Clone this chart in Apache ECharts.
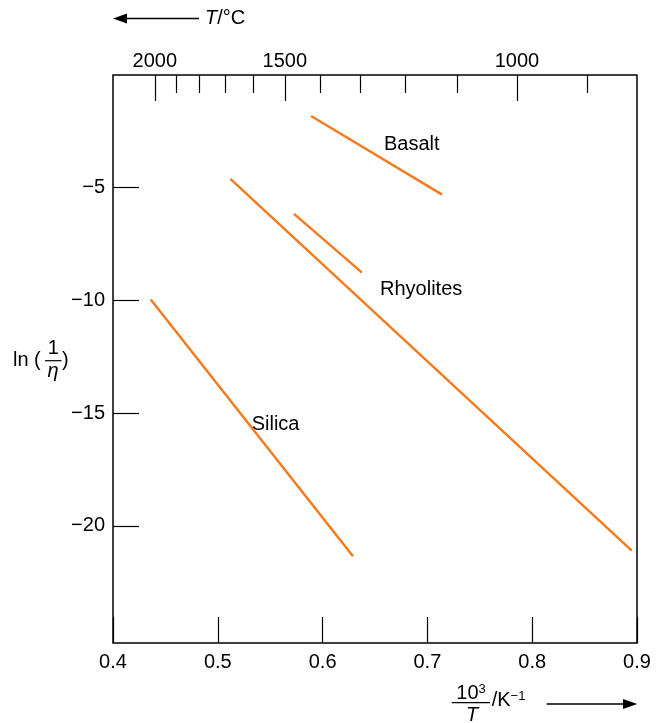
<!DOCTYPE html>
<html><head><meta charset="utf-8">
<script src="https://cdn.jsdelivr.net/npm/echarts@6/dist/echarts.min.js"></script>
<style>html,body{margin:0;padding:0;background:#fff}#c{width:663px;height:723px}</style>
</head><body><div id="c"></div>
<script>
// ---- data (x = 10^3/T in K^-1, y = ln(1/eta)) ----
const basaltX = [0.589, 0.714];
const basaltY = [-1.82, -5.31];
const rhyoliteAX = [0.512, 0.895];
const rhyoliteAY = [-4.61, -21.1];
const rhyoliteBX = [0.5727, 0.6376];
const rhyoliteBY = [-6.16, -8.77];
const silicaX = [0.436, 0.629];
const silicaY = [-9.96, -21.35];

const yTickLabels = [-5, -10, -15, -20];
const tempMajor = [2000, 1500, 1000];
const tempMinor = [1900, 1800, 1700, 1600, 1400, 1300, 1200, 1100, 900];

const labelNames = ['Basalt', 'Rhyolites', 'Silica'];
const labelX = [0.6586, 0.6548, 0.5323];
const labelY = [-3.08, -9.5, -15.52];

// ---- helpers ----
const FONT = "'Liberation Sans', Arial, Helvetica, sans-serif";
const TXT = '#000';
const ORANGE = '#f47b20';
const toInv = T => 1000 / (T + 273.15);
const pairs = (xs, ys) => xs.map((x, i) => [x, ys[i]]);

const chart = echarts.init(document.getElementById('c'), null, {renderer: 'canvas'});

function lineSeries(name, xs, ys) {
  return {
    name, type: 'line', data: pairs(xs, ys), symbol: 'none', silent: true,
    lineStyle: {color: ORANGE, width: 2.5}, animation: false
  };
}

const topAxisBase = {
  type: 'value', position: 'top', min: 0.4, max: 0.9,
  axisLine: {show: false, onZero: false}, splitLine: {show: false}
};

const option = {
  animation: false,
  grid: {left: 113, right: 26, top: 75, bottom: 80, show: true,
         borderColor: '#000', borderWidth: 1.5, backgroundColor: 'transparent'},
  xAxis: [
    {
      type: 'value', position: 'bottom', min: 0.4, max: 0.9, interval: 0.1,
      axisLine: {show: false, onZero: false}, splitLine: {show: false},
      axisTick: {show: true, inside: true, length: 26,
                 lineStyle: {color: '#000', width: 1.2}},
      axisLabel: {formatter: v => Number(v).toFixed(1),
                  fontSize: 20, fontFamily: FONT, color: TXT, margin: 9}
    },
    Object.assign({}, topAxisBase, {
      axisTick: {show: true, inside: true, length: 18, customValues: tempMinor.map(toInv),
                 lineStyle: {color: '#000', width: 1.2}},
      axisLabel: {show: false}
    }),
    Object.assign({}, topAxisBase, {
      axisTick: {show: true, inside: true, length: 26, customValues: tempMajor.map(toInv),
                 lineStyle: {color: '#000', width: 1.2}},
      axisLabel: {customValues: tempMajor.map(toInv),
                  formatter: v => String(Math.round(1000 / v - 273.15)),
                  fontSize: 20, fontFamily: FONT, color: TXT, margin: 4}
    })
  ],
  yAxis: {
    type: 'value', min: -25.2, max: 0,
    axisLine: {show: false, onZero: false}, splitLine: {show: false},
    axisTick: {show: true, inside: true, length: 26, customValues: yTickLabels,
               lineStyle: {color: '#000', width: 1.2}},
    axisLabel: {customValues: yTickLabels,
                formatter: v => (v < 0 ? '\u2212' + Math.abs(v) : String(v)),
                fontSize: 20, fontFamily: FONT, color: TXT, margin: 8}
  },
  series: [
    lineSeries('Basalt', basaltX, basaltY),
    lineSeries('Rhyolite A', rhyoliteAX, rhyoliteAY),
    lineSeries('Rhyolite B', rhyoliteBX, rhyoliteBY),
    lineSeries('Silica', silicaX, silicaY),
    {
      type: 'scatter', symbolSize: 0, silent: true, itemStyle: {opacity: 1},
      data: labelNames.map((n, i) => ({name: n, value: [labelX[i], labelY[i]]})),
      label: {show: true, position: [0, 0], align: 'left', verticalAlign: 'middle', opacity: 1,
              formatter: p => p.name, fontSize: 20, fontFamily: FONT, color: TXT}
    }
  ],
  graphic: [
    // top arrow + T/°C
    {type: 'line', shape: {x1: 122, y1: 18.5, x2: 199, y2: 18.5}, style: {stroke: '#000', lineWidth: 1.5}},
    {type: 'polygon', shape: {points: [[113, 18.5], [127, 13.5], [127, 23.5]]}, style: {fill: '#000'}},
    {type: 'text', x: 205, y: 18.5, style: {text: '{i|T}/°C', fontSize: 20, fontFamily: FONT, fill: TXT,
      verticalAlign: 'middle', align: 'left', rich: {i: {fontStyle: 'italic', fontSize: 20, fontFamily: FONT}}}},
    // y title ln(1/eta)
    {type: 'text', x: 13, y: 360, style: {text: 'ln (', fontSize: 20, fontFamily: FONT, fill: TXT, verticalAlign: 'middle', align: 'left'}},
    {type: 'text', x: 53.3, y: 348, style: {text: '1', fontSize: 20, fontFamily: FONT, fill: TXT, verticalAlign: 'middle', align: 'center'}},
    {type: 'line', shape: {x1: 45, y1: 360.7, x2: 61.5, y2: 360.7}, style: {stroke: '#000', lineWidth: 1.2}},
    {type: 'text', x: 53, y: 371, style: {text: 'η', fontSize: 20, fontStyle: 'italic', fontFamily: FONT, fill: TXT, verticalAlign: 'middle', align: 'center'}},
    {type: 'text', x: 62, y: 360, style: {text: ')', fontSize: 20, fontFamily: FONT, fill: TXT, verticalAlign: 'middle', align: 'left'}},
    // x title 10^3/T /K^-1 + arrow
    {type: 'text', x: 471, y: 693, style: {text: '10{s|3}', fontSize: 20, fontFamily: FONT, fill: TXT, verticalAlign: 'middle', align: 'center',
      rich: {s: {fontSize: 13, fontFamily: FONT, verticalAlign: 'bottom', padding: [0, 0, 8, 0]}}}},
    {type: 'line', shape: {x1: 451.7, y1: 702.7, x2: 490, y2: 702.7}, style: {stroke: '#000', lineWidth: 1.2}},
    {type: 'text', x: 472, y: 715, style: {text: 'T', fontSize: 20, fontStyle: 'italic', fontFamily: FONT, fill: TXT, verticalAlign: 'middle', align: 'center'}},
    {type: 'text', x: 491.7, y: 700, style: {text: '/K{s|\u22121}', fontSize: 20, fontFamily: FONT, fill: TXT, verticalAlign: 'middle', align: 'left',
      rich: {s: {fontSize: 13, fontFamily: FONT, verticalAlign: 'bottom', padding: [0, 0, 8, 0]}}}},
    {type: 'line', shape: {x1: 546.7, y1: 704, x2: 626, y2: 704}, style: {stroke: '#000', lineWidth: 1.5}},
    {type: 'polygon', shape: {points: [[637.3, 704], [623, 699], [623, 709]]}, style: {fill: '#000'}}
  ]
};
chart.setOption(option);
</script>
</body></html>
